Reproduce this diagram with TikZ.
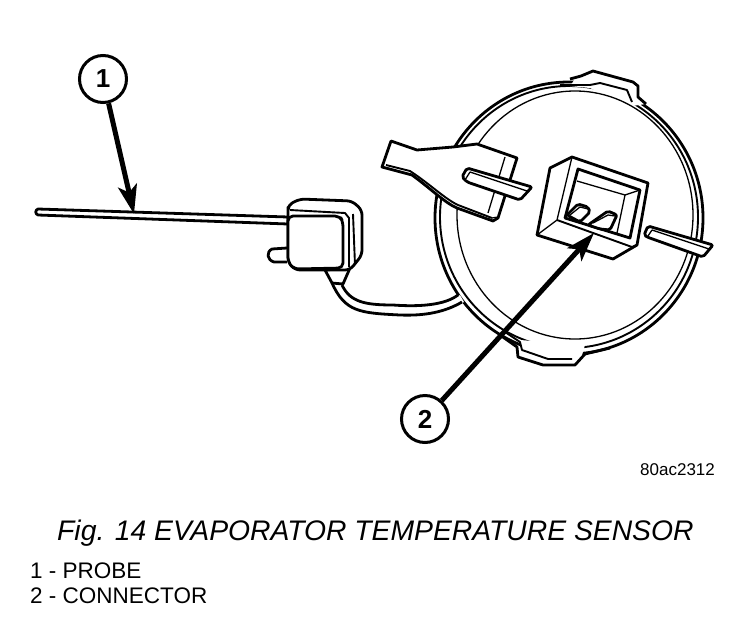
\documentclass[tikz,border=0pt]{standalone}
\usepackage{fontspec}
\setmainfont{Liberation Sans}
\usetikzlibrary{arrows.meta}
\tikzset{
  heavy/.style={line width=2.8pt, line join=round},
  medium/.style={line width=1.9pt, line join=round},
  thin line/.style={line width=1.3pt, line join=round},
  part/.style={heavy, fill=white},
  callout/.style={draw, circle, line width=3pt, fill=white, minimum size=47pt, inner sep=0pt, font=\fontsize{26}{26}\bfseries\selectfont},
  leader/.style={line width=5pt, -{Stealth[length=29pt,width=19pt,inset=7pt]}},
  caption/.style={anchor=base west, inner sep=0pt}
}
\begin{document}
\begin{tikzpicture}[x=1pt,y=-1pt]
\useasboundingbox (0,0) rectangle (752,616);
% plate
\draw [heavy] (569,218) ellipse [x radius=134, y radius=136];
\draw [medium] (569,217) ellipse [x radius=129, y radius=131];
% top tab
\draw [draw=none, fill=white] (575,79) -- (593,71) -- (633,82) -- (638,86) -- (638,97) -- (646,104) -- (632,106) -- (600,93) -- (590,88) -- (570,86) -- cycle;
\draw [heavy] (570,79) -- (581,76) -- (593,71) -- (633,82) -- (638,86) -- (638,97) -- (646,104);
\draw [medium] (560,85) -- (590,85) -- (600,83) -- (627,90) -- (632,102);
% bottom tab
\draw [draw=none, fill=white] (520,340) -- (585,345) -- (580,362) -- (545,362) -- (520,355) -- cycle;
\draw [heavy] (500,335) -- (517,347) -- (518,357) -- (543,365) -- (575,365) -- (585,354) -- (610,348);
\draw [medium] (505,332) -- (520,342) -- (522,350) -- (548,359) -- (572,359);
\draw [thin line] (575,215) ellipse [x radius=118, y radius=124];
% probe
\draw [part] (38,209) -- (288,217) -- (288,224) -- (38,215) .. controls (35,214) and (35,210) .. (38,209) -- cycle;
% cable
\draw [part, draw=none] (342,285) .. controls (350,302) and (365,305) .. (393,305)
  .. controls (420,307) and (445,305) .. (460,295) -- (464,302)
  .. controls (440,315) and (420,316) .. (400,315) .. controls (375,313) and (350,316) .. (332,283) -- cycle;
\draw [heavy] (342,285) .. controls (350,302) and (365,305) .. (393,305) .. controls (420,307) and (445,305) .. (458,295);
\draw [heavy] (332,283) .. controls (345,312) and (360,313) .. (400,315) .. controls (425,316) and (445,312) .. (462,302);
% sensor body
\draw [part] (325,270) -- (332,283) -- (343,284) -- (350,268) -- cycle;
\draw [part] (287,248) -- (272,249) .. controls (266,252) and (267,260) .. (274,262) -- (287,262);
\draw [part, rounded corners=5pt] (288,212) -- (288,205) -- (300,199) -- (352,201) -- (362,210) -- (362,255) -- (350,270) -- (295,270) -- (288,262) -- cycle;
\draw [medium] (290,210) -- (345,213) -- (349,218) -- (349,267);
\draw [medium] (353,214) -- (355,265);
\draw [part, rounded corners=5pt] (288,216) -- (340,216) -- (343,222) -- (343,268) -- (294,269) -- (288,262) -- cycle;
% fork
\draw [part] (391,141) -- (417,150) -- (453,147) -- (477,144) -- (517,158) -- (498,218) -- (493,221)
  -- (457,208) .. controls (445,203) and (430,188) .. (412,175) -- (382,167) -- cycle;
\draw [medium] (386,165) -- (410,171) .. controls (430,184) and (445,199) .. (458,205) -- (492,218);
\draw [thin line] (505,157) -- (488,213);
\draw [thin line] (492,218) -- (498,217);
% fork blade
\draw [part, rounded corners=2pt] (462,177) -- (467,168) -- (532,187) -- (520,200) -- (467,182) -- cycle;
\draw [thin line] (470,172) -- (527,191) -- (532,187);
\draw [thin line] (470,172) -- (465,180);
% connector housing
\draw [part] (550,168) -- (572,157) -- (648,183) -- (637,245) -- (613,259) -- (537,235) -- cycle;
\draw [thin line] (572,157) -- (557,220) -- (537,235);
\draw [medium] (557,220) -- (632,247) -- (637,245);
\draw [heavy] (578,169) -- (640,190) -- (630,238) -- (565,218) -- cycle;
\draw [thin line] (577,181) -- (625,195) -- (640,190);
\draw [thin line] (625,195) -- (617,233);
% pins
\draw [part, rounded corners=2pt] (567,215) -- (578,204) -- (588,207) -- (590,212) -- (580,222) -- cycle;
\draw [thin line] (570,215) -- (580,207) -- (588,209);
\draw [part, rounded corners=2pt] (588,225) -- (608,211) -- (617,215) -- (610,230) -- (600,229) -- cycle;
\draw [thin line] (593,223) -- (608,215) -- (615,216);
% right blade
\draw [part, rounded corners=2pt] (644,235) -- (648,226) -- (713,245) -- (703,257) -- (647,237) -- cycle;
\draw [thin line] (652,230) -- (709,249) -- (713,245);
\draw [thin line] (652,230) -- (648,236);
% callouts
\node [callout] (no1) at (103,79) {1};
\node [callout] (no2) at (425,419) {2};
\coordinate (probetip) at (134,214);
\coordinate (conntip) at (594,233);
\draw [leader] (no1) -- (probetip);
\draw [leader] (no2) -- (conntip);
% text
\node [caption, font=\fontsize{17}{17}\selectfont] (code) at (640,475) {80ac2312};
\node [caption, font=\fontsize{28.3}{28.3}\itshape\selectfont] (title) at (57,540) {Fig. 14 EVAPORATOR TEMPERATURE SENSOR};
\node [caption, font=\fontsize{22.5}{22.5}\selectfont] (item1) at (30,578) {1 - PROBE};
\node [caption, font=\fontsize{22.5}{22.5}\selectfont] (item2) at (30,603) {2 - CONNECTOR};
\end{tikzpicture}
\end{document}
